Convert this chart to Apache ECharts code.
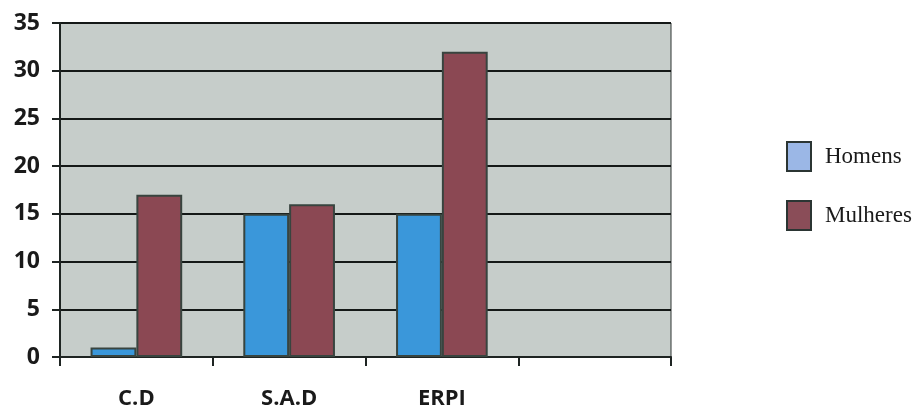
<!DOCTYPE html>
<html>
<head>
<meta charset="utf-8">
<script src="https://cdn.jsdelivr.net/npm/echarts@6/dist/echarts.min.js"></script>
<style>
  html, body { margin: 0; padding: 0; background: #ffffff; }
  #chart { width: 918px; height: 414px; }
</style>
</head>
<body>
<div id="chart"></div>
<script>
// Categories (the fourth slot is left empty on purpose)
const categories = ['C.D', 'S.A.D', 'ERPI', ''];
// Values per group
const homens = [1, 15, 15, '-'];
const mulheres = [17, 16, 32, '-'];
// Y axis range
const yMin = 0;
const yMax = 35;
const yStep = 5;

const chart = echarts.init(document.getElementById('chart'));

const barBorder = { borderColor: '#38443f', borderWidth: 2 };

chart.setOption({
  animation: false,
  backgroundColor: '#ffffff',
  grid: {
    left: 60, right: 247, top: 23, bottom: 57,
    show: true,
    backgroundColor: '#c6cdca',
    borderColor: '#2e3533',
    borderWidth: 1
  },
  legend: {
    orient: 'vertical',
    left: 781,
    top: 136,
    itemWidth: 24,
    itemHeight: 29,
    itemGap: 28,
    icon: 'rect',
    textStyle: {
      fontFamily: '"Liberation Serif", "DejaVu Serif", serif',
      fontSize: 23,
      color: '#1a1a1a',
      padding: [0, 0, 0, 9]
    },
    data: [
      { name: 'Homens', itemStyle: { color: '#9bb7e6', borderColor: '#2b3533', borderWidth: 2 } },
      { name: 'Mulheres', itemStyle: { color: '#8a4d58', borderColor: '#2b3533', borderWidth: 2 } }
    ]
  },
  xAxis: {
    type: 'category',
    data: categories,
    axisLine: { show: true, lineStyle: { color: '#1e2422', width: 2 } },
    axisTick: { show: true, alignWithLabel: false, length: 9, lineStyle: { color: '#1e2422', width: 2 } },
    axisLabel: {
      margin: 31,
      fontFamily: '"Open Sans", "Liberation Sans", sans-serif',
      fontWeight: 'bold',
      fontSize: 22,
      color: '#1a1a1a'
    },
    splitLine: { show: false }
  },
  yAxis: {
    type: 'value',
    min: yMin,
    max: yMax,
    interval: yStep,
    axisLine: { show: true, lineStyle: { color: '#1e2422', width: 2 } },
    axisTick: { show: true, length: 8, lineStyle: { color: '#1e2422', width: 2 } },
    axisLabel: {
      margin: 20,
      fontFamily: '"Open Sans", "Liberation Sans", sans-serif',
      fontWeight: 'bold',
      fontSize: 23,
      color: '#1a1a1a'
    },
    splitLine: { show: true, lineStyle: { color: '#141817', width: 2 } }
  },
  series: [
    {
      name: 'Homens',
      type: 'bar',
      data: homens,
      barGap: '0%',
      barCategoryGap: '40%',
      itemStyle: Object.assign({ color: '#3a97da' }, barBorder)
    },
    {
      name: 'Mulheres',
      type: 'bar',
      data: mulheres,
      barGap: '0%',
      barCategoryGap: '40%',
      itemStyle: Object.assign({ color: '#8b4853' }, barBorder)
    }
  ]
});
</script>
</body>
</html>
